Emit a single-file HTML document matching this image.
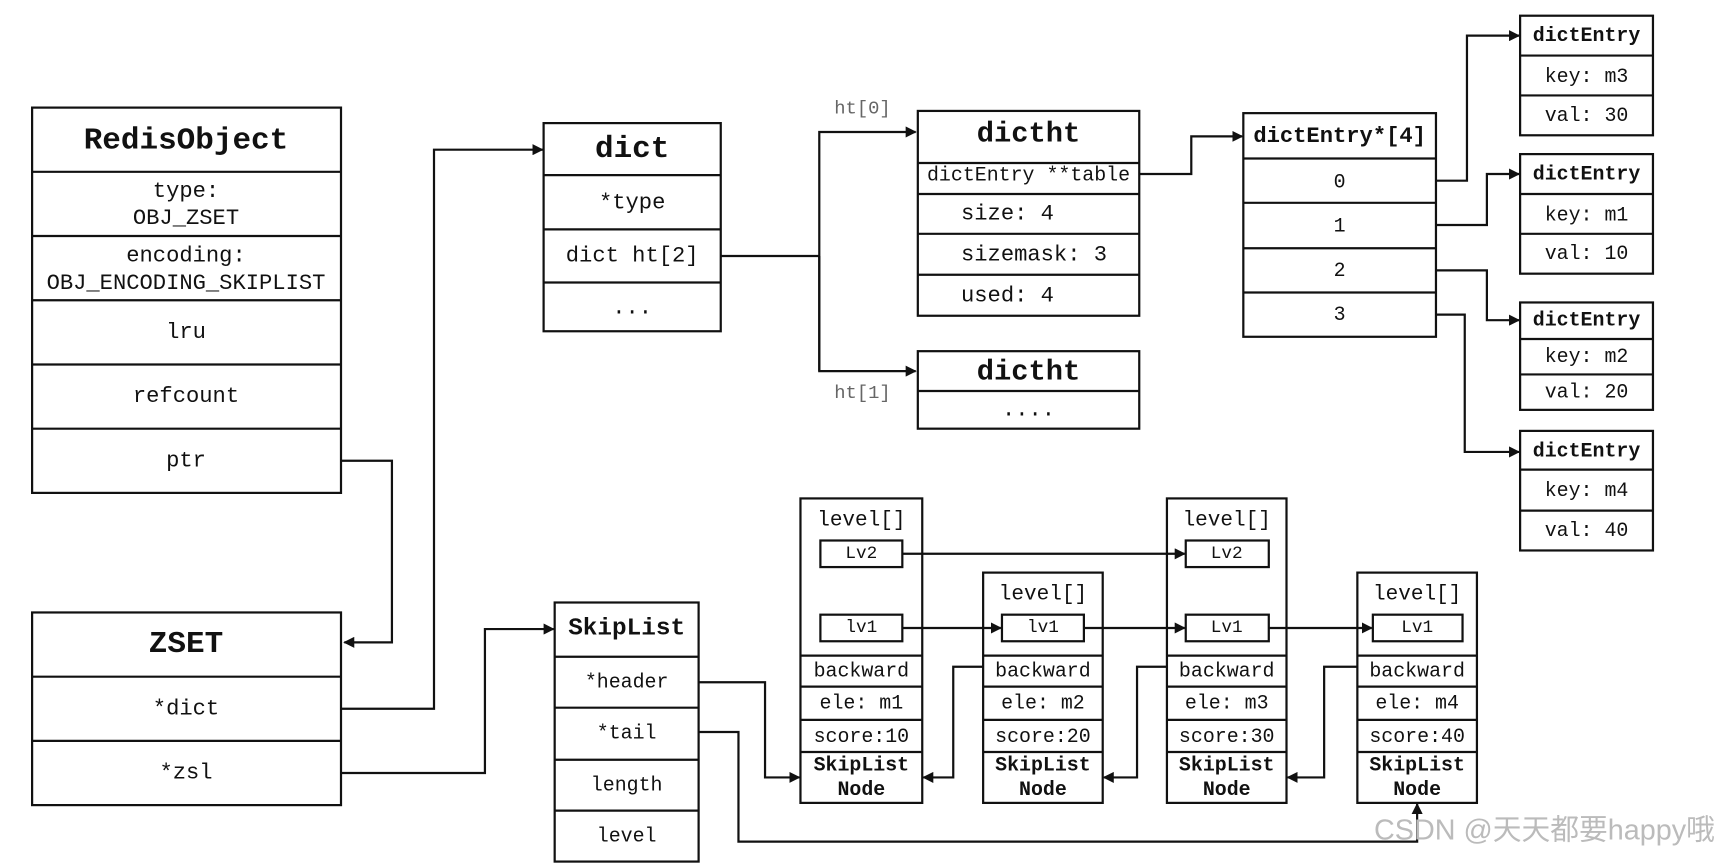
<!DOCTYPE html>
<html><head><meta charset="utf-8"><style>
html,body{margin:0;padding:0;background:#fff;width:1736px;height:864px;overflow:hidden}
svg{display:block}
text{font-family:"Liberation Mono",monospace;fill:#111;text-anchor:middle;dominant-baseline:central}
.b{font-weight:bold}
rect{fill:#fff;stroke:#111;stroke-width:2}
.l{fill:none;stroke:#111;stroke-width:2}
</style></head><body>
<svg width="1736" height="864" viewBox="0 0 1568 780" xmlns="http://www.w3.org/2000/svg">
<defs><marker id="a" markerWidth="10" markerHeight="10" refX="9" refY="5" orient="auto" markerUnits="userSpaceOnUse"><path d="M0,0 L10,5 L0,10 z" fill="#111"/></marker></defs>

<!-- RedisObject -->
<rect x="29" y="97" width="279" height="348"/>
<path class="l" d="M29 155H308M29 213H308M29 271H308M29 329H308M29 387H308"/>
<text x="168" y="127" class="b" font-size="28">RedisObject</text>
<text x="168" y="173" font-size="20">type:</text><text x="168" y="197" font-size="20">OBJ_ZSET</text>
<text x="168" y="231" font-size="20">encoding:</text><text x="168" y="256" font-size="20">OBJ_ENCODING_SKIPLIST</text>
<text x="168" y="300" font-size="20">lru</text>
<text x="168" y="358" font-size="20">refcount</text>
<text x="168" y="416" font-size="20">ptr</text>

<!-- ZSET -->
<rect x="29" y="553" width="279" height="174"/>
<path class="l" d="M29 611H308M29 669H308"/>
<text x="168" y="582" class="b" font-size="28">ZSET</text>
<text x="168" y="640" font-size="20">*dict</text>
<text x="168" y="698" font-size="20">*zsl</text>
<path class="l" d="M308 416H354V580H311" marker-end="url(#a)"/>
<path class="l" d="M308 640H392V135H490" marker-end="url(#a)"/>
<path class="l" d="M308 698H438V568H500" marker-end="url(#a)"/>

<!-- dict -->
<rect x="491" y="111" width="160" height="188"/>
<path class="l" d="M491 158H651M491 207H651M491 255H651"/>
<text x="571" y="135" class="b" font-size="28">dict</text>
<text x="571" y="183" font-size="20">*type</text>
<text x="571" y="231" font-size="20">dict ht[2]</text>
<text x="571" y="278" font-size="20">...</text>
<path class="l" d="M651 231H740"/>
<path class="l" d="M740 335V119H827" marker-end="url(#a)"/>
<path class="l" d="M740 231V335H827" marker-end="url(#a)"/>
<text x="779" y="98" font-size="17" style="fill:#666">ht[0]</text>
<text x="779" y="355" font-size="17" style="fill:#666">ht[1]</text>

<!-- dictht -->
<rect x="829" y="100" width="200" height="185"/>
<path class="l" d="M829 147H1029M829 175H1029M829 211H1029M829 248H1029"/>
<text x="929" y="121" class="b" font-size="26">dictht</text>
<text x="929" y="158" font-size="18">dictEntry **table</text>
<text x="868" y="193" font-size="20" style="text-anchor:start">size: 4</text>
<text x="868" y="230" font-size="20" style="text-anchor:start">sizemask: 3</text>
<text x="868" y="267" font-size="20" style="text-anchor:start">used: 4</text>
<rect x="829" y="317" width="200" height="70"/>
<path class="l" d="M829 353H1029"/>
<text x="929" y="336" class="b" font-size="26">dictht</text>
<text x="929" y="370" font-size="20">....</text>
<path class="l" d="M1029 157H1076V123H1122" marker-end="url(#a)"/>

<!-- dictEntry*[4] -->
<rect x="1123" y="102" width="174" height="202"/>
<path class="l" d="M1123 143H1297M1123 183H1297M1123 224H1297M1123 264H1297"/>
<text x="1210" y="123" class="b" font-size="20">dictEntry*[4]</text>
<text x="1210" y="164" font-size="18">0</text>
<text x="1210" y="204" font-size="18">1</text>
<text x="1210" y="244" font-size="18">2</text>
<text x="1210" y="284" font-size="18">3</text>
<path class="l" d="M1297 163H1325V32H1372" marker-end="url(#a)"/>
<path class="l" d="M1297 203H1343V157H1372" marker-end="url(#a)"/>
<path class="l" d="M1297 244H1343V289H1372" marker-end="url(#a)"/>
<path class="l" d="M1297 284H1323V408H1372" marker-end="url(#a)"/>

<!-- dictEntry boxes -->
<rect x="1373" y="14" width="120" height="108"/><path class="l" d="M1373 50H1493M1373 86H1493"/>
<text x="1433" y="32" class="b" font-size="18">dictEntry</text><text x="1433" y="69" font-size="18">key: m3</text><text x="1433" y="104" font-size="18">val: 30</text>
<rect x="1373" y="139" width="120" height="108"/><path class="l" d="M1373 175H1493M1373 211H1493"/>
<text x="1433" y="157" class="b" font-size="18">dictEntry</text><text x="1433" y="194" font-size="18">key: m1</text><text x="1433" y="229" font-size="18">val: 10</text>
<rect x="1373" y="273" width="120" height="97"/><path class="l" d="M1373 306H1493M1373 338H1493"/>
<text x="1433" y="289" class="b" font-size="18">dictEntry</text><text x="1433" y="322" font-size="18">key: m2</text><text x="1433" y="354" font-size="18">val: 20</text>
<rect x="1373" y="389" width="120" height="108"/><path class="l" d="M1373 424H1493M1373 461H1493"/>
<text x="1433" y="407" class="b" font-size="18">dictEntry</text><text x="1433" y="443" font-size="18">key: m4</text><text x="1433" y="479" font-size="18">val: 40</text>

<!-- SkipList -->
<rect x="501" y="544" width="130" height="234"/>
<path class="l" d="M501 593H631M501 639H631M501 686H631M501 732H631"/>
<text x="566" y="568" class="b" font-size="22">SkipList</text>
<text x="566" y="616" font-size="18">*header</text>
<text x="566" y="662" font-size="18">*tail</text>
<text x="566" y="709" font-size="18">length</text>
<text x="566" y="755" font-size="18">level</text>
<path class="l" d="M631 616H691V702H722" marker-end="url(#a)"/>
<path class="l" d="M631 661H667V760H1280V726" marker-end="url(#a)"/>

<!-- nodes -->
<g font-size="18">
<rect x="723" y="450" width="110" height="275"/>
<path class="l" d="M723 592H833M723 620H833M723 650H833M723 679H833"/>
<text x="778" y="470" font-size="19">level[]</text>
<rect x="741" y="488" width="74" height="24"/><text x="778" y="500" font-size="16">Lv2</text>
<rect x="741" y="555" width="74" height="24"/><text x="778" y="567" font-size="16">lv1</text>
<text x="778" y="606">backward</text><text x="778" y="635">ele: m1</text><text x="778" y="665">score:10</text>
<text x="778" y="691" class="b">SkipList</text><text x="778" y="713" class="b">Node</text>

<rect x="888" y="517" width="108" height="208"/>
<path class="l" d="M888 592H996M888 620H996M888 650H996M888 679H996"/>
<text x="942" y="537" font-size="19">level[]</text>
<rect x="905" y="555" width="74" height="24"/><text x="942" y="567" font-size="16">lv1</text>
<text x="942" y="606">backward</text><text x="942" y="635">ele: m2</text><text x="942" y="665">score:20</text>
<text x="942" y="691" class="b">SkipList</text><text x="942" y="713" class="b">Node</text>

<rect x="1054" y="450" width="108" height="275"/>
<path class="l" d="M1054 592H1162M1054 620H1162M1054 650H1162M1054 679H1162"/>
<text x="1108" y="470" font-size="19">level[]</text>
<rect x="1071" y="488" width="75" height="24"/><text x="1108" y="500" font-size="16">Lv2</text>
<rect x="1071" y="555" width="75" height="24"/><text x="1108" y="567" font-size="16">Lv1</text>
<text x="1108" y="606">backward</text><text x="1108" y="635">ele: m3</text><text x="1108" y="665">score:30</text>
<text x="1108" y="691" class="b">SkipList</text><text x="1108" y="713" class="b">Node</text>

<rect x="1226" y="517" width="108" height="208"/>
<path class="l" d="M1226 592H1334M1226 620H1334M1226 650H1334M1226 679H1334"/>
<text x="1280" y="537" font-size="19">level[]</text>
<rect x="1240" y="555" width="81" height="24"/><text x="1280" y="567" font-size="16">Lv1</text>
<text x="1280" y="606">backward</text><text x="1280" y="635">ele: m4</text><text x="1280" y="665">score:40</text>
<text x="1280" y="691" class="b">SkipList</text><text x="1280" y="713" class="b">Node</text>
</g>
<path class="l" d="M815 500H1070" marker-end="url(#a)"/>
<path class="l" d="M815 567H904" marker-end="url(#a)"/>
<path class="l" d="M979 567H1070" marker-end="url(#a)"/>
<path class="l" d="M1146 567H1239" marker-end="url(#a)"/>
<path class="l" d="M888 602H861V702H834" marker-end="url(#a)"/>
<path class="l" d="M1054 602H1027V702H997" marker-end="url(#a)"/>
<path class="l" d="M1226 602H1196V702H1163" marker-end="url(#a)"/>

<text x="1395" y="750" font-size="26" style="fill:#bbb;font-family:'Liberation Sans','Noto Sans CJK SC',sans-serif">CSDN @天天都要happy哦</text>
</svg>
</body></html>
